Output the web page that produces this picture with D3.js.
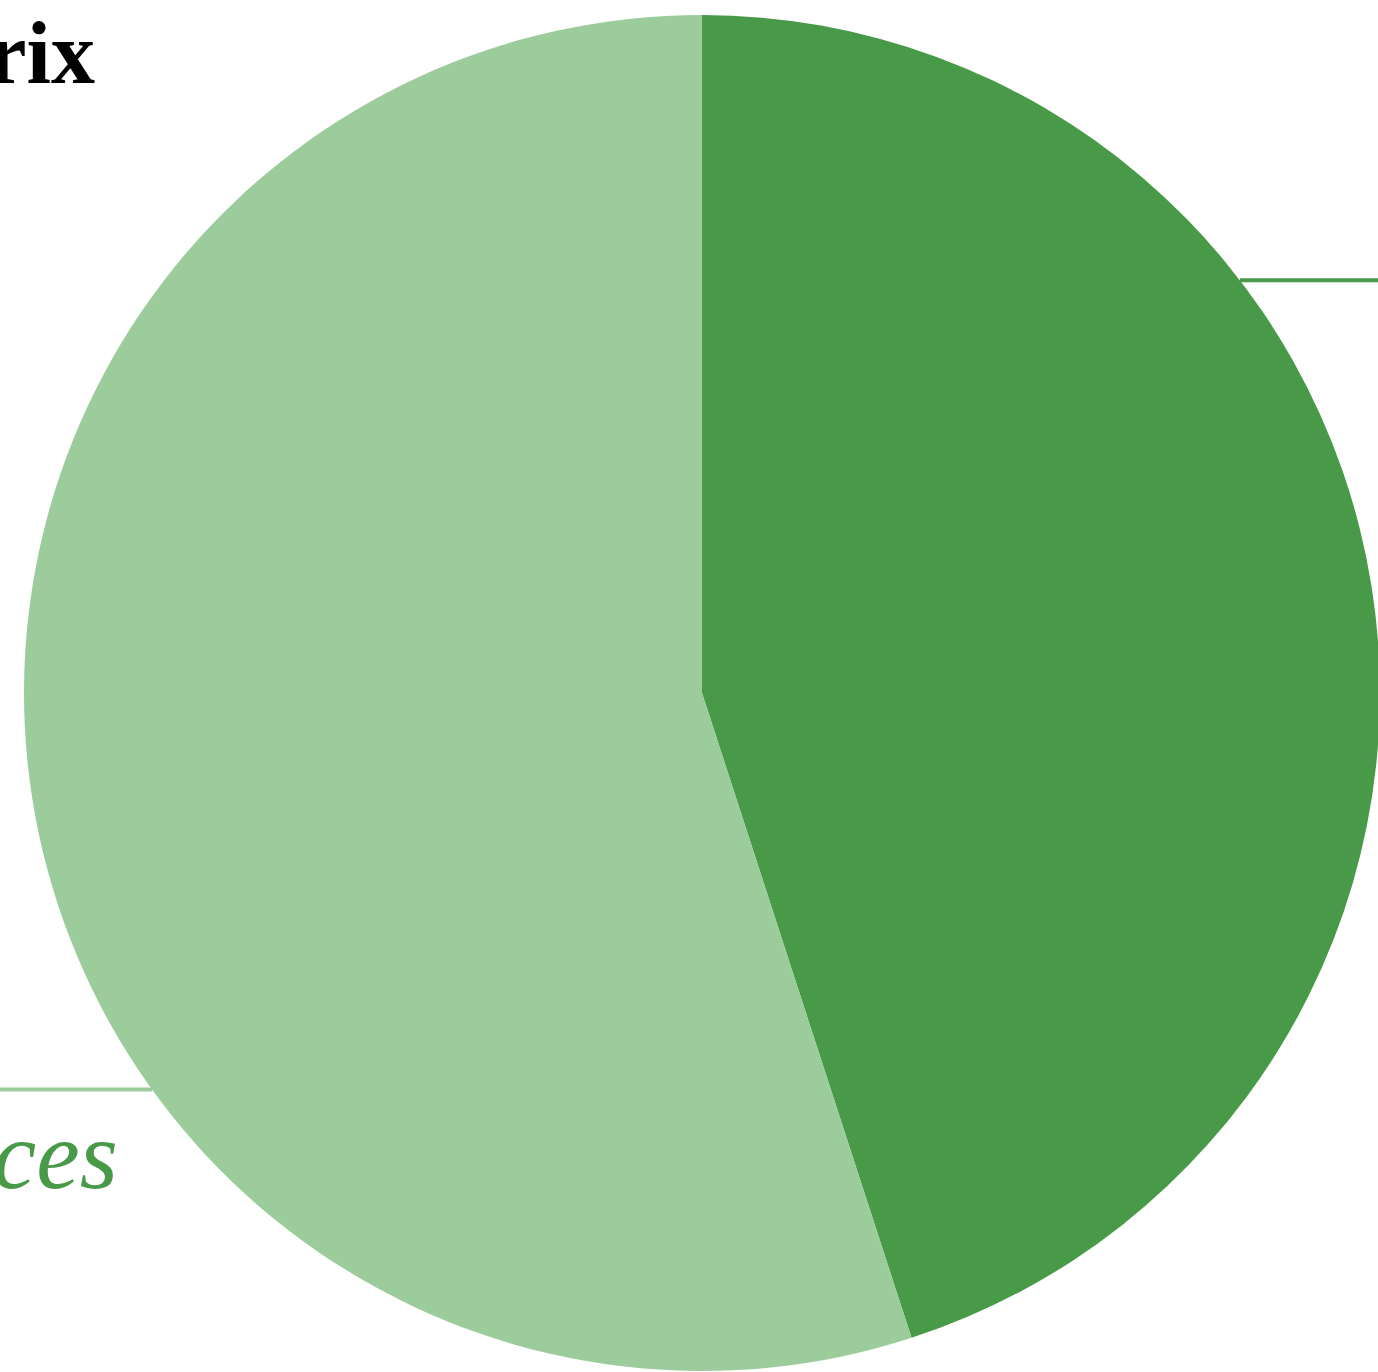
<!DOCTYPE html>
<html>
<head>
<meta charset="utf-8">
<script src="https://cdn.jsdelivr.net/npm/d3@7"></script>
<style>
  html, body { margin: 0; padding: 0; background: #ffffff; overflow: hidden; }
  svg { display: block; }
</style>
</head>
<body>
<svg id="chart" width="1378" height="1372"></svg>
<script>
// Share split between the two segments
const categories = ["Products", "Services"];
const shares = [45, 55];
const title = "Revenue Matrix";

const colors = ["#489a48", "#9ccc9c"];
const labelColor = "#489a48";

const width = 1378, height = 1372;
const cx = 702, cy = 693, radius = 678;

// where each leader line leaves the rim (degrees clockwise from 12 o'clock)
const leaderAngles = [52.5, 234.2];

const svg = d3.select("#chart");

svg.append("text")
  .attr("x", 95).attr("y", 83)
  .attr("text-anchor", "end")
  .attr("font-family", "'Liberation Serif', serif")
  .attr("font-weight", "bold")
  .attr("font-size", 88)
  .attr("fill", "#000")
  .text(title);

const g = svg.append("g").attr("transform", `translate(${cx},${cy})`);

const pie = d3.pie().sort(null).value(d => d.v);
const arcs = pie(categories.map((c, i) => ({ c, v: shares[i] })));
const arc = d3.arc().innerRadius(0).outerRadius(radius);

g.selectAll("path.slice")
  .data(arcs)
  .join("path")
  .attr("class", "slice")
  .attr("d", arc)
  .attr("fill", (d, i) => colors[i]);

// leader lines run horizontally from the rim out past the canvas edge
arcs.forEach((d, i) => {
  const a = leaderAngles[i] * Math.PI / 180;
  const px = radius * Math.sin(a), py = -radius * Math.cos(a);
  const right = px > 0;
  const endX = right ? width - cx + 40 : -cx - 40;
  g.append("line")
    .attr("x1", px).attr("y1", py)
    .attr("x2", endX).attr("y2", py)
    .attr("stroke", colors[i])
    .attr("stroke-width", 4);
  g.append("text")
    .attr("x", right ? width - cx + 40 : 118 - cx)
    .attr("y", py + 98)
    .attr("text-anchor", right ? "start" : "end")
    .attr("font-family", "'Liberation Serif', serif")
    .attr("font-style", "italic")
    .attr("font-size", 98)
    .attr("fill", labelColor)
    .text(d.data.c);
});
</script>
</body>
</html>
